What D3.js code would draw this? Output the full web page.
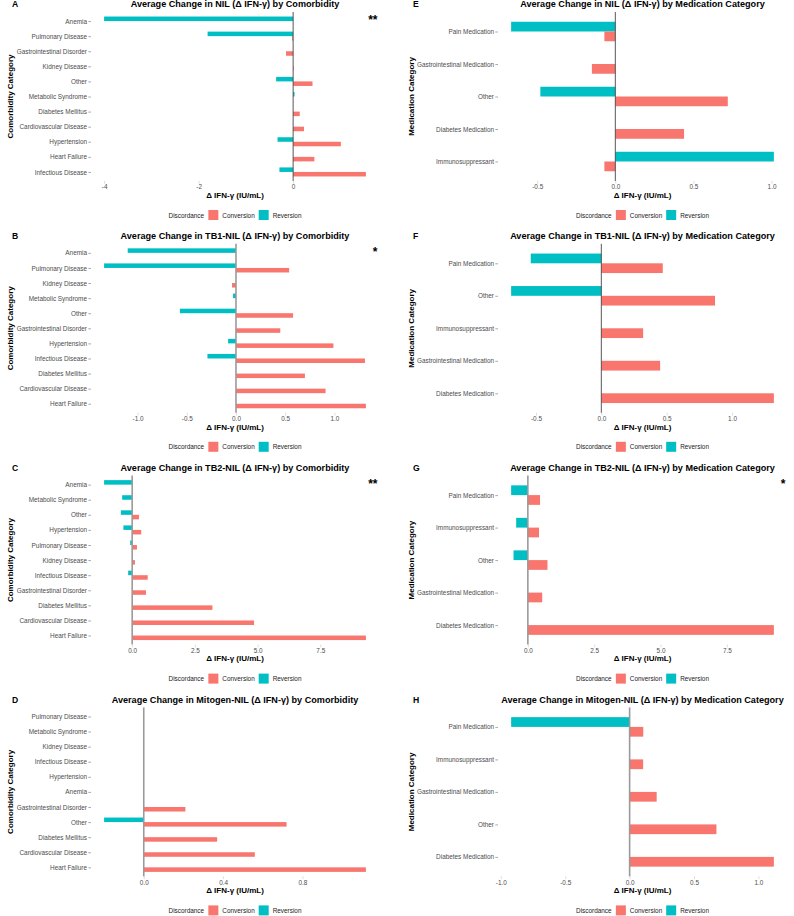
<!DOCTYPE html>
<html>
<head>
<meta charset="utf-8">
<script src="https://cdn.jsdelivr.net/npm/d3@7"></script>
<style>
body { margin: 0; background: #fff; }
svg { font-family: "Liberation Sans", Arial, Helvetica, sans-serif; }
</style>
</head>
<body>
<div id="holder"></div>
<script>
// Panel A - NIL by comorbidity
const catsA = ["Anemia", "Pulmonary Disease", "Gastrointestinal Disorder", "Kidney Disease", "Other", "Metabolic Syndrome", "Diabetes Mellitus", "Cardiovascular Disease", "Hypertension", "Heart Failure", "Infectious Disease"];
const convA = [null, -0.02, -0.15, 0.01, 0.41, null, 0.14, 0.23, 1.01, 0.45, 1.54];
const revA  = [-4.0, -1.81, null, null, -0.36, 0.03, null, null, -0.33, null, -0.29];
const ticksA = [-4, -2, 0];

// Panel B - TB1-NIL by comorbidity
const catsB = ["Anemia", "Pulmonary Disease", "Kidney Disease", "Metabolic Syndrome", "Other", "Gastrointestinal Disorder", "Hypertension", "Infectious Disease", "Diabetes Mellitus", "Cardiovascular Disease", "Heart Failure"];
const convB = [null, 0.54, -0.04, null, 0.58, 0.45, 0.99, 1.31, 0.70, 0.91, 1.32];
const revB  = [-1.10, -1.34, null, -0.03, -0.57, null, -0.08, -0.29, null, null, null];
const ticksB = [-1.0, -0.5, 0.0, 0.5, 1.0];

// Panel C - TB2-NIL by comorbidity
const catsC = ["Anemia", "Metabolic Syndrome", "Other", "Hypertension", "Pulmonary Disease", "Kidney Disease", "Infectious Disease", "Gastrointestinal Disorder", "Diabetes Mellitus", "Cardiovascular Disease", "Heart Failure"];
const convC = [null, null, 0.27, 0.36, 0.19, 0.11, 0.62, 0.55, 3.20, 4.86, 9.32];
const revC  = [-1.12, -0.40, -0.45, -0.35, -0.08, null, -0.16, null, null, null, null];
const ticksC = [0.0, 2.5, 5.0, 7.5];

// Panel D - Mitogen-NIL by comorbidity
const catsD = ["Pulmonary Disease", "Metabolic Syndrome", "Kidney Disease", "Infectious Disease", "Hypertension", "Anemia", "Gastrointestinal Disorder", "Other", "Diabetes Mellitus", "Cardiovascular Disease", "Heart Failure"];
const convD = [null, null, null, null, null, null, 0.21, 0.72, 0.37, 0.56, 1.12];
const revD  = [null, null, null, null, null, null, null, -0.20, null, null, null];
const ticksD = [0.0, 0.4, 0.8];

// Panel E - NIL by medication
const catsE = ["Pain Medication", "Gastrointestinal Medication", "Other", "Diabetes Medication", "Immunosuppressant"];
const convE = [-0.07, -0.15, 0.72, 0.44, -0.07];
const revE  = [-0.667, null, -0.48, null, 1.015];
const ticksE = [-0.5, 0.0, 0.5, 1.0];

// Panel F - TB1-NIL by medication
const catsF = ["Pain Medication", "Other", "Immunosuppressant", "Gastrointestinal Medication", "Diabetes Medication"];
const convF = [0.47, 0.87, 0.32, 0.45, 1.32];
const revF  = [-0.54, -0.69, null, null, null];
const ticksF = [-0.5, 0.0, 0.5, 1.0];

// Panel G - TB2-NIL by medication
const catsG = ["Pain Medication", "Immunosuppressant", "Other", "Gastrointestinal Medication", "Diabetes Medication"];
const convG = [0.46, 0.42, 0.74, 0.54, 9.27];
const revG  = [-0.63, -0.44, -0.54, null, null];
const ticksG = [0.0, 2.5, 5.0, 7.5];

// Panel H - Mitogen-NIL by medication
const catsH = ["Pain Medication", "Immunosuppressant", "Gastrointestinal Medication", "Other", "Diabetes Medication"];
const convH = [0.106, 0.105, 0.21, 0.674, 1.12];
const revH  = [-0.92, null, null, null, null];
const ticksH = [-1.0, -0.5, 0.0, 0.5, 1.0];

const colors = { Conversion: "#F8766D", Reversion: "#00BFC4" };

const panels = [
    {letter: "A", title: "Average Change in NIL (\u0394 IFN-\u03b3) by Comorbidity", cats: catsA, conv: convA, rev: revA, ticks: ticksA, fmt: "d", col: 0, row: 0, star: "**", zero: "dark", ylab: "Comorbidity Category"},
    {letter: "B", title: "Average Change in TB1-NIL (\u0394 IFN-\u03b3) by Comorbidity", cats: catsB, conv: convB, rev: revB, ticks: ticksB, fmt: ".1f", col: 0, row: 1, star: "*", zero: "gray", ylab: "Comorbidity Category"},
    {letter: "C", title: "Average Change in TB2-NIL (\u0394 IFN-\u03b3) by Comorbidity", cats: catsC, conv: convC, rev: revC, ticks: ticksC, fmt: ".1f", col: 0, row: 2, star: "**", zero: "gray", ylab: "Comorbidity Category"},
    {letter: "D", title: "Average Change in Mitogen-NIL (\u0394 IFN-\u03b3) by Comorbidity", cats: catsD, conv: convD, rev: revD, ticks: ticksD, fmt: ".1f", col: 0, row: 3, star: "", zero: "gray", ylab: "Comorbidity Category"},
    {letter: "E", title: "Average Change in NIL (\u0394 IFN-\u03b3) by Medication Category", cats: catsE, conv: convE, rev: revE, ticks: ticksE, fmt: ".1f", col: 1, row: 0, star: "", zero: "dark", ylab: "Medication Category"},
    {letter: "F", title: "Average Change in TB1-NIL (\u0394 IFN-\u03b3) by Medication Category", cats: catsF, conv: convF, rev: revF, ticks: ticksF, fmt: ".1f", col: 1, row: 1, star: "", zero: "dark", ylab: "Medication Category"},
    {letter: "G", title: "Average Change in TB2-NIL (\u0394 IFN-\u03b3) by Medication Category", cats: catsG, conv: convG, rev: revG, ticks: ticksG, fmt: ".1f", col: 1, row: 2, star: "*", zero: "gray", ylab: "Medication Category"},
    {letter: "H", title: "Average Change in Mitogen-NIL (\u0394 IFN-\u03b3) by Medication Category", cats: catsH, conv: convH, rev: revH, ticks: ticksH, fmt: ".1f", col: 1, row: 3, star: "", zero: "gray", ylab: "Medication Category"}
];

const W = 794, H = 916;
const colX = [[91, 379], [498, 787]];
const colLeft = [12, 413];
const colYTitle = [10.5, 411];
const rowTop0 = 12, rowStep = 231.8, panelH = 169;

const svg = d3.select("#holder").append("svg")
    .attr("width", W).attr("height", H);

function drawPanel(p) {
    const x0 = colX[p.col][0], x1 = colX[p.col][1];
    const top = rowTop0 + p.row * rowStep;
    const bottom = top + panelH;
    const g = svg.append("g");

    let vals = p.conv.concat(p.rev).filter(v => v != null);
    vals.push(0);
    let ext = d3.extent(vals);
    let pad = (ext[1] - ext[0]) * 0.05;
    let xScale = d3.scaleLinear()
        .domain([ext[0] - pad, ext[1] + pad])
        .range([x0, x1]);

    let yScale = d3.scalePoint()
        .domain(p.cats)
        .range([top, bottom])
        .padding(0.6);
    let bw = yScale.step() * 0.3;

    // bars: reversion above the category line, conversion below
    p.cats.forEach((c, i) => {
        let cy = yScale(c);
        if (p.rev[i] != null) {
            g.append("rect")
                .attr("x", Math.min(xScale(0), xScale(p.rev[i])))
                .attr("y", cy - bw)
                .attr("width", Math.abs(xScale(p.rev[i]) - xScale(0)))
                .attr("height", bw)
                .attr("fill", colors.Reversion);
        }
        if (p.conv[i] != null) {
            g.append("rect")
                .attr("x", Math.min(xScale(0), xScale(p.conv[i])))
                .attr("y", cy)
                .attr("width", Math.abs(xScale(p.conv[i]) - xScale(0)))
                .attr("height", bw)
                .attr("fill", colors.Conversion);
        }
    });

    // zero line
    g.append("line")
        .attr("x1", xScale(0)).attr("x2", xScale(0))
        .attr("y1", top).attr("y2", bottom)
        .attr("stroke", p.zero == "dark" ? "#444" : "#9a9a9a")
        .attr("stroke-width", p.zero == "dark" ? 0.9 : 1.6);

    // axes
    let f = d3.format(p.fmt);
    const xAxis = d3.axisBottom(xScale)
        .tickValues(p.ticks)
        .tickSize(2.7)
        .tickPadding(1.2)
        .tickFormat(d => f(d).replace("\u2212", "-"));
    let gx = g.append("g")
        .attr("transform", "translate(0," + bottom + ")")
        .call(xAxis);
    gx.select(".domain").remove();
    gx.selectAll("line").attr("stroke", "#bbb").attr("stroke-width", 0.5);
    gx.selectAll("text").attr("fill", "#4d4d4d").style("font-size", "6.4px");

    const yAxis = d3.axisLeft(yScale).tickSize(2.7).tickPadding(1.3);
    let gy = g.append("g")
        .attr("transform", "translate(" + x0 + ",0)")
        .call(yAxis);
    gy.select(".domain").remove();
    gy.selectAll("line").attr("stroke", "#555").attr("stroke-width", 0.5);
    gy.selectAll("text").attr("fill", "#4d4d4d").style("font-size", "6.4px");

    // titles
    let cx = (x0 + x1) / 2;
    g.append("text")
        .attr("x", cx).attr("y", top - 4.8)
        .attr("text-anchor", "middle")
        .style("font-size", "9.1px").style("font-weight", "bold")
        .text(p.title);
    g.append("text")
        .attr("x", colLeft[p.col]).attr("y", top - 4.8)
        .style("font-size", "8.6px").style("font-weight", "bold")
        .text(p.letter);
    g.append("text")
        .attr("x", cx).attr("y", bottom + 16.8)
        .attr("text-anchor", "middle")
        .style("font-size", "8px").style("font-weight", "bold")
        .text("\u0394 IFN-\u03b3 (IU/mL)");
    g.append("text")
        .attr("transform", "translate(" + colYTitle[p.col] + "," + ((top + bottom) / 2) + ") rotate(-90)")
        .attr("text-anchor", "middle")
        .attr("dominant-baseline", "central")
        .style("font-size", "8px").style("font-weight", "bold")
        .text(p.ylab);

    if (p.star) {
        g.append("text")
            .attr("x", x1 - 1.5).attr("y", top + 12)
            .attr("text-anchor", "end")
            .style("font-size", "12px").style("font-weight", "bold")
            .text(p.star);
    }

    // legend
    let lg = g.append("g");
    let ly = bottom + 34;
    let pos = 0;
    let t = lg.append("text").attr("x", pos).attr("y", ly)
        .attr("dominant-baseline", "central")
        .style("font-size", "6.4px").attr("fill", "#222")
        .text("Discordance");
    pos += t.node().getComputedTextLength() + 4.3;
    ["Conversion", "Reversion"].forEach(k => {
        lg.append("rect").attr("x", pos).attr("y", ly - 5).attr("width", 10).attr("height", 10)
            .attr("fill", colors[k]);
        pos += 14;
        let tt = lg.append("text").attr("x", pos).attr("y", ly)
            .attr("dominant-baseline", "central")
            .style("font-size", "6.4px").attr("fill", "#222")
            .text(k);
        pos += tt.node().getComputedTextLength() + 4;
    });
    pos -= 4;
    lg.attr("transform", "translate(" + (cx - pos / 2) + ",0)");
}

panels.forEach(p => drawPanel(p));
</script>
</body>
</html>
